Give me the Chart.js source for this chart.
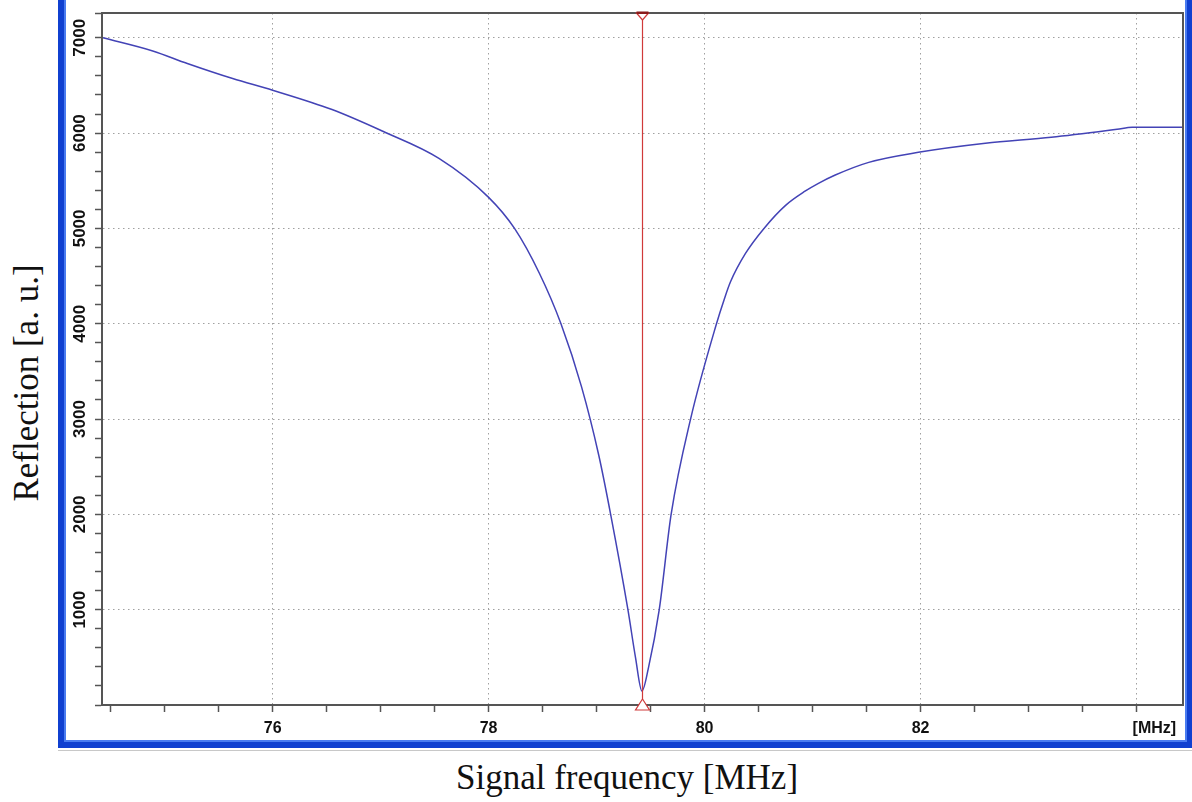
<!DOCTYPE html>
<html>
<head>
<meta charset="utf-8">
<script src="https://cdn.jsdelivr.net/npm/chart.js@4.4.1/dist/chart.umd.min.js"></script>
<style>
  html, body { margin: 0; padding: 0; background: #fff; }
  body { width: 1192px; height: 802px; position: relative; overflow: hidden; }
  #frame {
    position: absolute; left: 58px; top: -10px; width: 1134px; height: 758px;
    box-sizing: border-box; background: #fff;
    border-left: 6px solid #1040d0; border-right: 5px solid #1040d0; border-bottom: 6px solid #1040d0;
    box-shadow: inset 2px -2px 0 #4a7cf0, inset -2px 0 0 #4a7cf0;
  }
  #shade { position: absolute; left: 58px; top: 750px; width: 1134px; height: 1px; background: #c8c8c8; }
  #plot { position: absolute; left: 64px; top: 0; }
  .title {
    position: absolute; white-space: nowrap; color: #111;
    font-family: "Liberation Serif", "Times New Roman", serif; font-size: 35px;
  }
  #ytitle { left: 27px; top: 383px; transform: translate(-50%, -50%) rotate(-90deg); }
  #xtitle { left: 627px; top: 778px; transform: translate(-50%, -50%); }
</style>
</head>
<body>
<div id="frame"></div>
<div id="shade"></div>
<canvas id="plot" width="1123" height="743"></canvas>
<div class="title" id="ytitle">Reflection [a. u.]</div>
<div class="title" id="xtitle">Signal frequency [MHz]</div>
<script>
// reflection sweep around the resonance
const freqMHz = [
  74.43, 74.89, 75.21, 75.63, 76.00, 76.55, 77.02, 77.54, 78.00, 78.24,
  78.47, 78.67, 78.86, 79.02, 79.13, 79.29, 79.36, 79.42, 79.48, 79.58,
  79.69, 79.87, 80.11, 80.18, 80.24, 80.38, 80.55, 80.75, 80.93, 81.05,
  81.21, 81.52, 81.98, 82.60, 83.21, 83.82, 83.96, 84.43
];
const reflection = [
  7000, 6862, 6730, 6572, 6450, 6247, 6019, 5735, 5326, 5000,
  4530, 4000, 3340, 2620, 2000, 1000, 500, 147, 390, 1000,
  2000, 3000, 4000, 4250, 4440, 4740, 5000, 5242, 5390, 5470,
  5560, 5693, 5798, 5893, 5956, 6040, 6061, 6061
];
const markerMHz = 79.42;

const xRange = [74.42, 84.43];
const yRange = [0, 7260];
const xMinorStep = 0.5, xMajorStep = 2;
const yMinorStep = 200, yMajorStep = 1000;
const xUnitTick = 84;
const xUnitLabel = '[MHz]';

const isMajor = (v, step) => Math.abs(v / step - Math.round(v / step)) < 1e-6;
const axisGrey = '#555';
const gridGrey = '#a0a0a0';
const labelFont = { family: 'Liberation Sans, Arial, sans-serif', weight: 'bold' };

// top and right edges of the plot box
const boxPlugin = {
  id: 'box',
  afterDatasetsDraw(chart) {
    const { ctx, chartArea: a } = chart;
    ctx.save();
    ctx.strokeStyle = axisGrey;
    ctx.lineWidth = 2;
    ctx.beginPath();
    ctx.moveTo(a.left, a.top);
    ctx.lineTo(a.right, a.top);
    ctx.lineTo(a.right, a.bottom);
    ctx.stroke();
    ctx.restore();
  }
};

// red cursor with its two triangles
const markerPlugin = {
  id: 'marker',
  afterDatasetsDraw(chart) {
    const { ctx, chartArea: a, scales: { x } } = chart;
    const px = Math.round(x.getPixelForValue(markerMHz)) + 0.5;
    ctx.save();
    ctx.strokeStyle = '#d03a3a';
    ctx.lineWidth = 1.2;
    ctx.beginPath();
    ctx.moveTo(px, a.top);
    ctx.lineTo(px, a.bottom);
    ctx.stroke();

    ctx.beginPath();
    ctx.moveTo(px - 6, a.top);
    ctx.lineTo(px + 6, a.top);
    ctx.lineTo(px, a.top + 7);
    ctx.closePath();
    ctx.fillStyle = '#fff';
    ctx.fill();
    ctx.stroke();
    ctx.fillStyle = '#8a1a1a';
    ctx.fillRect(px - 6, a.top - 1.5, 12, 2.5);

    ctx.beginPath();
    ctx.moveTo(px, a.bottom - 6);
    ctx.lineTo(px + 7, a.bottom + 5);
    ctx.lineTo(px - 7, a.bottom + 5);
    ctx.closePath();
    ctx.fillStyle = '#fff';
    ctx.fill();
    ctx.stroke();
    ctx.restore();
  }
};

new Chart(document.getElementById('plot'), {
  type: 'line',
  data: {
    datasets: [{
      data: freqMHz.map((f, i) => ({ x: f, y: reflection[i] })),
      borderColor: '#4343b6',
      borderWidth: 1.5,
      pointRadius: 0,
      cubicInterpolationMode: 'monotone',
      fill: false
    }]
  },
  options: {
    responsive: false,
    animation: false,
    events: [],
    layout: { padding: { top: 13, right: 4, left: 0, bottom: 0 } },
    plugins: { legend: { display: false }, tooltip: { enabled: false } },
    scales: {
      x: {
        type: 'linear',
        min: xRange[0],
        max: xRange[1],
        afterFit: s => { s.height = 38; },
        grid: {
          color: c => isMajor(c.tick.value, xMajorStep) ? gridGrey : 'rgba(0,0,0,0)',
          lineWidth: 1,
          borderDash: [1.5, 3.5],
          tickColor: axisGrey,
          tickLength: 7,
          tickWidth: 1.5
        },
        border: { color: axisGrey, width: 2, dash: [1.5, 3.5] },
        ticks: {
          stepSize: xMinorStep,
          includeBounds: false,
          autoSkip: false,
          maxRotation: 0,
          padding: 7,
          color: '#111',
          font: { ...labelFont, size: 16 },
          callback: v => {
            if (!isMajor(v, xMajorStep)) return '';
            if (Math.abs(v - xUnitTick) < 1e-6) return '\u2007\u2007\u2007\u2007' + xUnitLabel;
            return String(Math.round(v));
          }
        }
      },
      y: {
        type: 'linear',
        min: yRange[0],
        max: yRange[1],
        afterFit: s => { s.width = 38; },
        grid: {
          color: c => (c.tick.value > 0 && isMajor(c.tick.value, yMajorStep)) ? gridGrey : 'rgba(0,0,0,0)',
          lineWidth: 1,
          borderDash: [1.5, 3.5],
          tickColor: axisGrey,
          tickLength: 7,
          tickWidth: 1.5
        },
        border: { color: axisGrey, width: 2, dash: [1.5, 3.5] },
        ticks: {
          stepSize: yMinorStep,
          autoSkip: false,
          minRotation: 90,
          maxRotation: 90,
          crossAlign: 'center',
          padding: -4,
          color: '#111',
          font: { ...labelFont, size: 17 },
          callback: v => (v > 0 && isMajor(v, yMajorStep)) ? String(v) : ''
        }
      }
    }
  },
  plugins: [boxPlugin, markerPlugin]
});
</script>
</body>
</html>
